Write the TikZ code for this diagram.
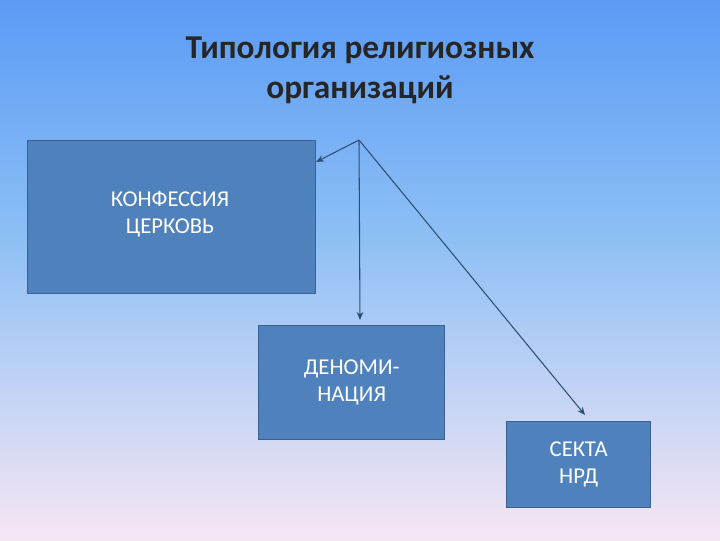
\documentclass[tikz,border=0pt]{standalone}
\usepackage{fontspec}
\setmainfont{Carlito}
\usetikzlibrary{arrows.meta}
\definecolor{boxc}{HTML}{4F81BD}
\definecolor{boxb}{HTML}{3A6190}
\definecolor{topc}{HTML}{5B9BF5}
\definecolor{midc}{HTML}{8EC0F5}
\definecolor{botc}{HTML}{F6E6F4}
\tikzset{box/.style={draw=boxb,line width=1pt,fill=boxc,text=white,font=\fontsize{17}{20}\selectfont,align=center,inner sep=0pt},
conn/.style={draw=boxb!80!black,line width=0.8pt,-{Stealth[length=6pt,width=5pt]}}}
\begin{document}
\begin{tikzpicture}[x=0.75pt,y=-0.75pt]
\useasboundingbox (0,0) rectangle (720,540);
\shade[top color=topc,bottom color=midc] (0,0) rectangle (720,240);
\shade[top color=midc,bottom color=botc] (0,240) rectangle (720,540);
\node[font=\bfseries\fontsize{25}{30}\selectfont,text=black!85,align=center] (title) at (360,70) {Типология религиозных\\организаций};
\node[box,minimum width=216pt,minimum height=114.75pt,anchor=north west] (b1) at (27,140) {};
\node[text=white,font=\fontsize{17}{20}\selectfont,align=center] (t1) at (170,214) {КОНФЕССИЯ\\ЦЕРКОВЬ};
\node[box,minimum width=139.5pt,minimum height=85.5pt,anchor=north west] (b2) at (258,325) {ДЕНОМИ-\\НАЦИЯ};
\node[box,minimum width=108pt,minimum height=64.5pt,anchor=north west] (b3) at (506,421) {СЕКТА\\НРД};
\coordinate (apex) at (359,140);
\coordinate (e1) at (316,162);
\coordinate (e2) at (360,320);
\coordinate (e3) at (585,415);
\draw[conn] (apex) -- (e1);
\draw[conn] (apex) -- (e2);
\draw[conn] (apex) -- (e3);
\end{tikzpicture}
\end{document}
